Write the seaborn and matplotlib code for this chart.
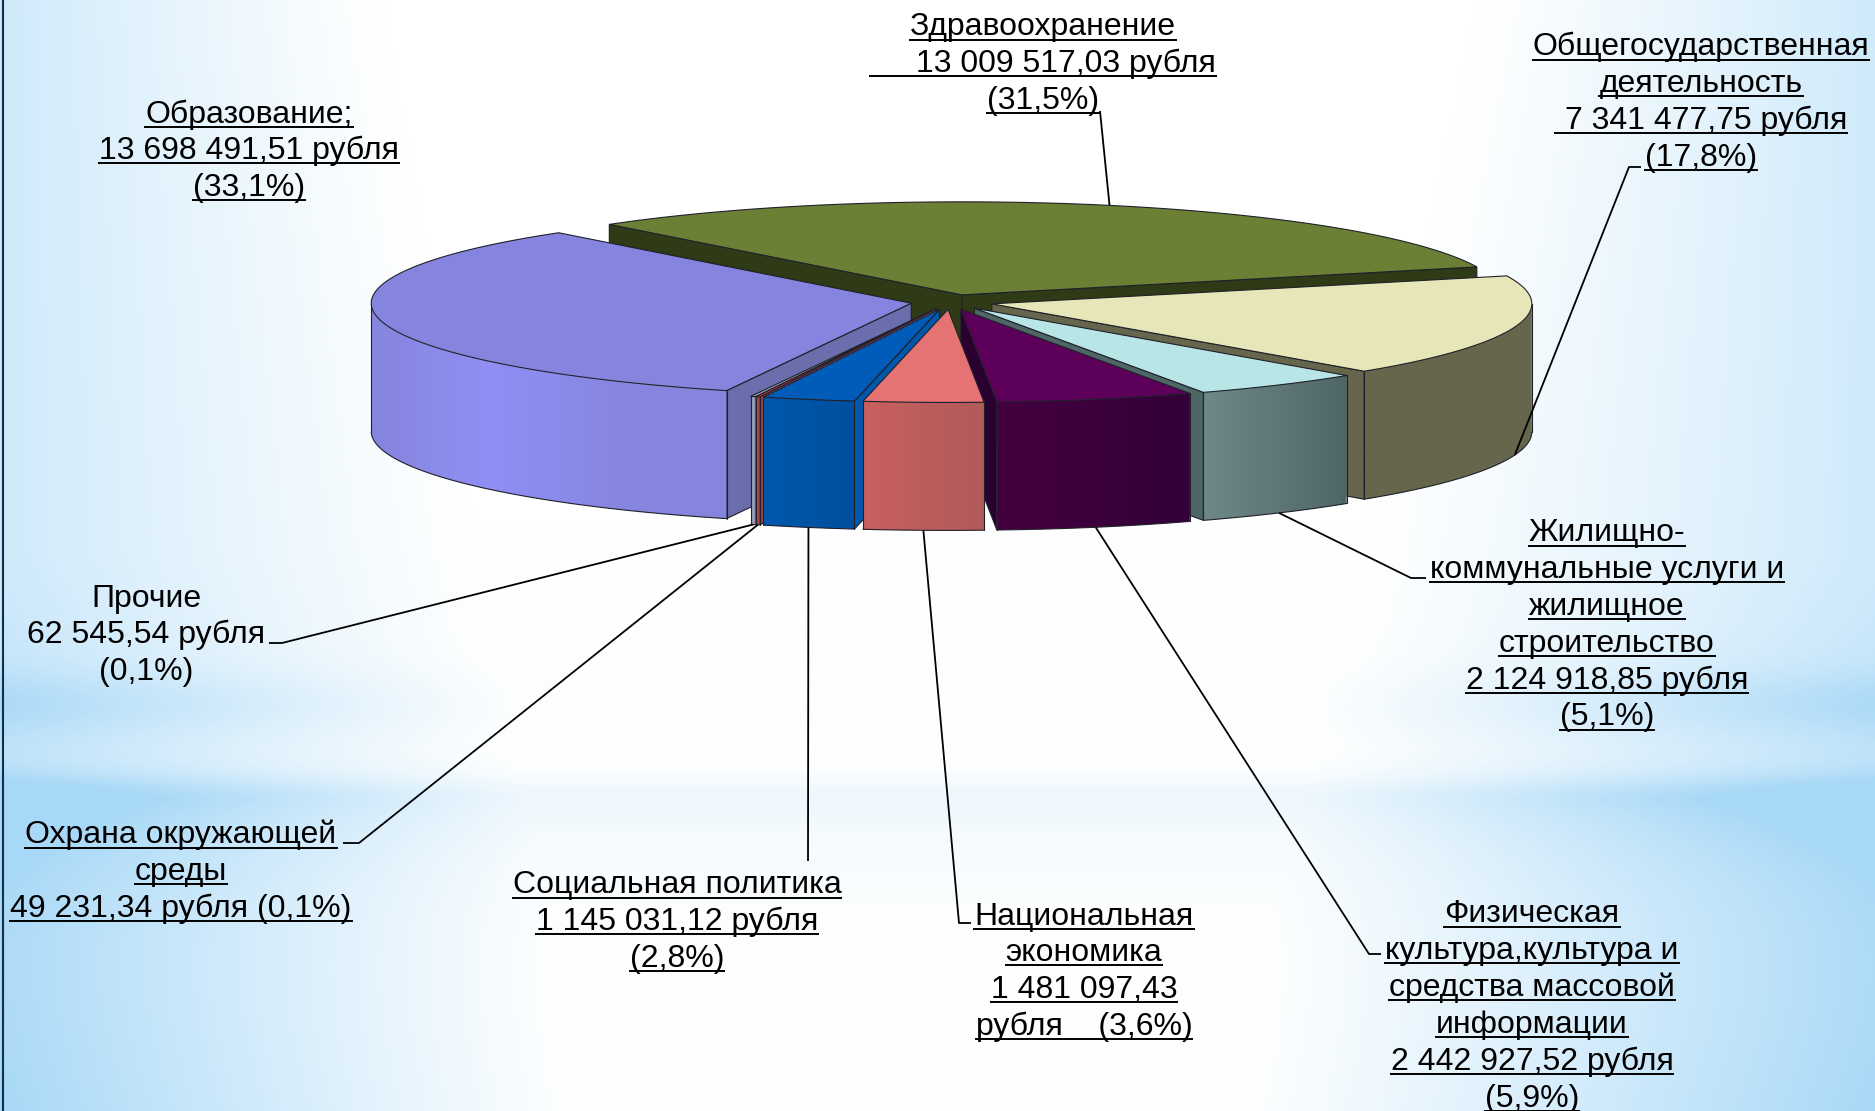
import numpy as np
import seaborn as sns
import matplotlib
matplotlib.use("Agg")
import matplotlib.pyplot as plt
from matplotlib.patches import Polygon

# данные диаграммы (по часовой стрелке от Здравоохранения)
categories = ["Здравоохранение", "Общегосударственная деятельность",
              "Жилищно-коммунальные услуги", "Физическая культура", "Национальная экономика",
              "Социальная политика", "Охрана окружающей среды", "Прочие", "Образование"]
values = [13009517.03, 7341477.75, 2124918.85, 2442927.52, 1481097.43,
          1145031.12, 49231.34, 62545.54, 13698491.51]

labels_text = [
    ["Здравоохранение", "13 009 517,03 рубля", "(31,5%)"],
    ["Общегосударственная", "деятельность", "7 341 477,75 рубля", "(17,8%)"],
    ["Жилищно-", "коммунальные услуги и", "жилищное", "строительство", "2 124 918,85 рубля", "(5,1%)"],
    ["Физическая", "культура,культура и", "средства массовой", "информации", "2 442 927,52 рубля", "(5,9%)"],
    ["Национальная", "экономика", "1 481 097,43", "рубля    (3,6%)"],
    ["Социальная политика", "1 145 031,12 рубля", "(2,8%)"],
    ["Охрана окружающей", "среды", "49 231,34 рубля (0,1%)"],
    ["Прочие", "62 545,54 рубля", "(0,1%)"],
    ["Образование;", "13 698 491,51 рубля", "(33,1%)"],
]

# цвета: верх, стенка, градиент боковой поверхности
top_colors = ["#6b8035", "#e6e6b8", "#b8e6e6", "#5c0059", "#e67373", "#005cb8", "#c0504d", "#a8a8c8", "#8585e0"]
wall_colors = ["#2f3a17", "#66664d", "#4f6666", "#2a0030", "#b05a5a", "#0058ad", "#a04040", "#8888a8", "#6b6dad"]
side_colors = [["#55662a", "#55662a"], ["#66664d", "#66664d"], ["#6f8888", "#4f6666"], ["#44003f", "#33003a"],
               ["#c96060", "#b05a5a"], ["#0058ad", "#004f9e"], ["#c0504d", "#a04040"], ["#a8a8c8", "#8888a8"],
               ["#8585dd", "#8f8ff5", "#8787e2", "#8585dd"]]

# геометрия псевдо-3D
W, H = 1875, 1111
cx, cy = 950, 302
rx, ry = 540, 93
depth = 128
explode = [0.08, 0.08, 0.08, 0.08, 0.08, 0.08, 0.08, 0.08, 0.073]
start_angle = 130.75

# подписи: центр по x, y первой строки, шаг, подчёркивание, запас слева по строкам
label_x = [1043, 1701, 1607, 1532, 1084, 677, 181, 146, 249]
label_y = [25, 45, 531, 912, 914, 883, 833, 596, 112]
underlined = [True, True, True, True, True, True, True, False, True]
pad_left = {(0, 1): 46, (1, 2): 10}
shift_x = {(0, 1): 23, (1, 2): 5}
line_step = 36.8

# выноски: куда идёт линия от сектора
leaders = [[(1100, 111)], [(1629, 167), (1641, 167)], [(1411, 578), (1426, 578)], [(1369, 954), (1381, 954)],
           [(959, 923), (971, 923)], [(808, 861)], [(359, 843), (343, 843)], [(282, 643), (269, 643)], []]

sns.set_theme(style="white")
plt.rcParams["font.family"] = ["Liberation Sans", "DejaVu Sans"]

fig = plt.figure(figsize=(W / 100, H / 100), dpi=100)
ax = fig.add_axes([0, 0, 1, 1])
ax.set_xlim(0, W)
ax.set_ylim(H, 0)
ax.axis("off")

# фон: белый центр, голубые края и две полосы
yy, xx = np.mgrid[0:H:3, 0:W:3]
v = yy / H
left_w = np.clip(1 - xx / (380 + 200 * v), 0, 1)
right_w = np.clip((xx - (1480 - 250 * v)) / (W - (1480 - 250 * v)), 0, 1)
edge = np.maximum(left_w, right_w)
strength = 0.55 + 0.45 * np.clip((v - 0.5) / 0.5, 0, 1)
main_band = np.where(yy > 800, np.exp(-(yy - 800) / 70.0), np.exp(-((yy - 800) / 24.0) ** 2))
faint_band = np.exp(-((yy - 703) / 32.0) ** 2)
w = edge ** 1.1 * strength + main_band * (0.2 + 0.42 * edge) + faint_band * (0.04 + 0.25 * edge)
w = np.clip(w, 0, 1)
blue = np.array([0.66, 0.85, 0.97])
bg = 1 - w[..., None] * (1 - blue)
ax.imshow(bg, extent=[0, W, H, 0], aspect="auto", zorder=0, interpolation="bilinear")
ax.set_xlim(0, W)
ax.set_ylim(H, 0)
ax.plot([2.5, 2.5], [0, H], color="#10304a", lw=1.5, zorder=1)

# углы секторов из значений
shares = np.array(values) / np.sum(values)
sweeps = shares * 360
ends = start_angle - np.cumsum(sweeps)
starts = ends + sweeps
mids = (starts + ends) / 2


def rim(angle, x0, y0):
    a = np.radians(angle)
    return x0 + rx * np.cos(a), y0 - ry * np.sin(a)


apex = [(cx + explode[i] * rx * np.cos(np.radians(m)), cy - explode[i] * ry * np.sin(np.radians(m)))
        for i, m in enumerate(mids)]

# порядок рисования: сзади вперёд
order = sorted(range(len(values)), key=lambda i: -np.sin(np.radians(mids[i])))
edge_c = "#20202a"
z = 2
for i in order:
    x0, y0 = apex[i]
    # стенка видна, только если её нормаль смотрит на зрителя
    if np.cos(np.radians(starts[i])) < 0:
        xa, ya = rim(starts[i], x0, y0)
        ax.add_patch(Polygon([(x0, y0), (xa, ya), (xa, ya + depth), (x0, y0 + depth)],
                             facecolor=wall_colors[i], edgecolor=edge_c, lw=0.8, zorder=z))
    if np.cos(np.radians(ends[i])) > 0:
        xa, ya = rim(ends[i], x0, y0)
        ax.add_patch(Polygon([(x0, y0), (xa, ya), (xa, ya + depth), (x0, y0 + depth)],
                             facecolor=wall_colors[i], edgecolor=edge_c, lw=0.8, zorder=z))
    z += 1
    # боковая поверхность только там, где она обращена к зрителю
    angs = np.linspace(starts[i], ends[i], 200)
    front = angs[np.sin(np.radians(angs)) < 0.0]
    if np.sin(np.radians(starts[i])) > 0 and starts[i] < 90:
        front = np.r_[0.0, front]
    if len(front) > 1:
        px, py = rim(front, x0, y0)
        poly = Polygon(list(zip(px, py)) + list(zip(px[::-1], py[::-1] + depth)), facecolor="none",
                       edgecolor="none", zorder=z, transform=ax.transData)
        ax.add_patch(poly)
        # градиент идёт слева направо
        pal = np.array(sns.blend_palette(side_colors[i], 256))[None, :, :]
        img = ax.imshow(pal, extent=[px.min(), px.max(), (py + depth).max(), py.min()], aspect="auto",
                        zorder=z, interpolation="bilinear")
        img.set_clip_path(poly)
        ax.set_xlim(0, W)
        ax.set_ylim(H, 0)
        ax.plot(px, py + depth, color=edge_c, lw=0.8, zorder=z)
        ax.plot([px[0], px[0]], [py[0], py[0] + depth], color=edge_c, lw=0.8, zorder=z)
        ax.plot([px[-1], px[-1]], [py[-1], py[-1] + depth], color=edge_c, lw=0.8, zorder=z)
    z += 1
    top = np.linspace(starts[i], ends[i], 120)
    tx, ty = rim(top, x0, y0)
    ax.add_patch(Polygon([(x0, y0)] + list(zip(tx, ty)), facecolor=top_colors[i], edgecolor=edge_c, lw=0.8, zorder=z))
    z += 1

# выноски привязаны к середине сектора
for i, pts in enumerate(leaders):
    if not pts:
        continue
    ax0, ay0 = rim(mids[i], *apex[i])
    if np.sin(np.radians(mids[i])) < 0:
        ay0 += depth
    ax.plot([ax0] + [p[0] for p in pts], [ay0] + [p[1] for p in pts], color="#000000", lw=1.3, zorder=z + 1,
            solid_capstyle="butt")

# подписи с подчёркиванием
fig.canvas.draw()
renderer = fig.canvas.get_renderer()
inv = ax.transData.inverted()
for i, lines in enumerate(labels_text):
    for j, line in enumerate(lines):
        y = label_y[i] + j * line_step
        x = label_x[i] + shift_x.get((i, j), 0)
        t = ax.text(x, y + 10.5, line, ha="center", va="baseline", fontsize=23, color="#000000", zorder=z + 2)
        if underlined[i]:
            bb = t.get_window_extent(renderer)
            x1 = inv.transform((bb.x0, bb.y0))[0] - pad_left.get((i, j), 0) - 1
            x2 = inv.transform((bb.x1, bb.y0))[0] + 1
            ax.plot([x1, x2], [y + 14.5, y + 14.5], color="#000000", lw=1.4, zorder=z + 2, solid_capstyle="butt")

fig.savefig("out.png", dpi=100)
